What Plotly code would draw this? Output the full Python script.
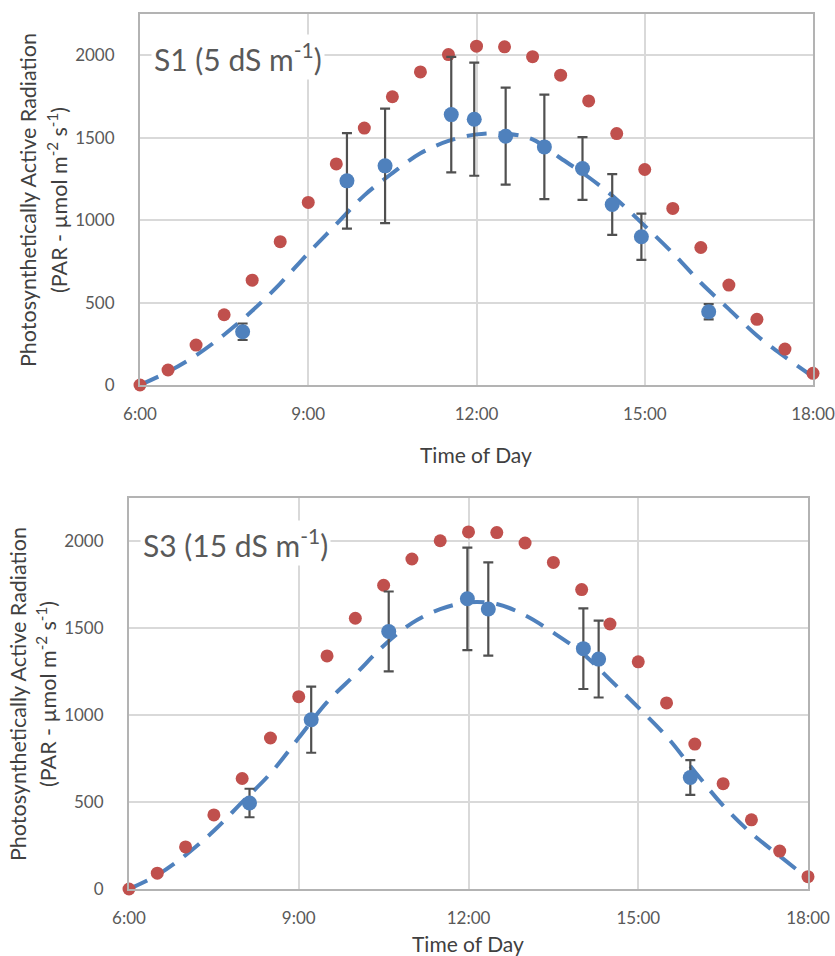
import plotly.graph_objects as go

W, H = 835, 956

# ---- data ----
clear_sky_time = [6.0, 6.5, 7.0, 7.5, 8.0, 8.5, 9.0, 9.5, 10.0, 10.5, 11.0, 11.5, 12.0,
                  12.5, 13.0, 13.5, 14.0, 14.5, 15.0, 15.5, 16.0, 16.5, 17.0, 17.5, 18.0]
clear_sky_par = [0, 91, 242, 426, 636, 869, 1107, 1341, 1558, 1748, 1899, 2004, 2055,
                 2051, 1991, 1879, 1723, 1525, 1307, 1071, 834, 606, 398, 218, 71]

s1_time = [7.83, 9.69, 10.37, 11.55, 11.96, 12.52, 13.21, 13.89, 14.42, 14.94, 16.14]
s1_par = [323, 1238, 1329, 1640, 1612, 1509, 1444, 1313, 1095, 899, 444]
s1_err = [50, 290, 347, 350, 343, 294, 317, 190, 184, 140, 46]

s3_time = [8.13, 9.22, 10.59, 11.98, 12.35, 14.03, 14.30, 15.92]
s3_par = [495, 974, 1482, 1670, 1611, 1383, 1323, 642]
s3_err = [82, 190, 230, 295, 268, 232, 221, 100]

fit_time = clear_sky_time
s1_fit = [0, 80, 180, 305, 450, 615, 800, 975, 1150, 1285, 1405, 1480, 1520,
          1525, 1490, 1375, 1260, 1125, 965, 800, 620, 460, 300, 170, 50]
s3_fit = [0, 80, 195, 335, 500, 665, 870, 1075, 1235, 1400, 1530, 1610, 1650,
          1640, 1575, 1475, 1360, 1205, 1045, 878, 675, 480, 320, 190, 60]

x_tickvals = [6, 9, 12, 15, 18]
x_ticktext = ["6:00", "9:00", "12:00", "15:00", "18:00"]
y_tickvals = [0, 500, 1000, 1500, 2000]

panel_labels = ["S1 (5 dS m<sup>-1</sup>)", "S3 (15 dS m<sup>-1</sup>)"]
x_title = "Time of Day"
y_title_1 = "Photosynthetically Active Radiation"
y_title_2 = "(PAR - µmol m<sup>-2</sup> s<sup>-1</sup>)"

RED = "#c0504d"
BLUE = "#4f81bd"
ERR = "#505050"
TXT = "#595959"
TITLE = "#404040"
FONT = "Lato"

# panel pixel boxes in screenshot coords: (left, right, top, bottom)
boxes = [(140, 813, 14, 385), (129, 808, 498, 889)]

fig = go.Figure()
panels = [(s1_time, s1_par, s1_err, s1_fit), (s3_time, s3_par, s3_err, s3_fit)]
for i, (t, v, e, fit) in enumerate(panels):
    xa = "x" if i == 0 else "x2"
    ya = "y" if i == 0 else "y2"
    fig.add_trace(go.Scatter(x=fit_time, y=fit, mode="lines", xaxis=xa, yaxis=ya,
                             line=dict(color=BLUE, width=4, dash="20px,12px", shape="spline"),
                             showlegend=False, hoverinfo="skip", cliponaxis=False))
    fig.add_trace(go.Scatter(x=clear_sky_time, y=clear_sky_par, mode="markers", xaxis=xa, yaxis=ya,
                             marker=dict(color=RED, size=13), showlegend=False, cliponaxis=False))
    fig.add_trace(go.Scatter(x=t, y=v, mode="markers", xaxis=xa, yaxis=ya,
                             marker=dict(color=BLUE, size=15),
                             error_y=dict(type="data", array=e, visible=True,
                                          color=ERR, thickness=2.2, width=5),
                             showlegend=False, cliponaxis=False))

def px2x(p):
    return p / W

def px2y(p):
    return 1 - p / H

axis_common = dict(showline=True, linecolor="#b3b3b3", linewidth=2, mirror=True,
                   showgrid=True, gridcolor="#d9d9d9", gridwidth=2, zeroline=False,
                   automargin=False, ticklabeloverflow="allow",
                   tickfont=dict(family=FONT, size=17, color=TXT),
                   ticks="outside", tickcolor="rgba(0,0,0,0)")

for i, (l, r, t, b) in enumerate(boxes):
    sfx = "" if i == 0 else "2"
    fig.update_layout(**{
        "xaxis" + sfx: dict(axis_common, domain=[px2x(l), px2x(r)], range=[6, 18],
                            tickvals=x_tickvals, ticktext=x_ticktext, ticklen=13,
                            anchor="y" + sfx),
        "yaxis" + sfx: dict(axis_common, domain=[px2y(b), px2y(t)], range=[0, 2250],
                            tickvals=y_tickvals, ticklen=20, anchor="x" + sfx),
    })

annotations = []
# panel labels
label_pos = [(151, 57), (140, 543)]
for i, (lx, ly) in enumerate(label_pos):
    annotations.append(dict(text=panel_labels[i], xref="paper", yref="paper",
                            x=px2x(lx), y=px2y(ly), xanchor="left", yanchor="middle",
                            showarrow=False, bgcolor="white", borderpad=2,
                            font=dict(family=FONT, size=30, color=TXT)))
# x titles
for (xc, yc) in [(476, 454), (468, 943)]:
    annotations.append(dict(text=x_title, xref="paper", yref="paper",
                            x=px2x(xc), y=px2y(yc), xanchor="center", yanchor="middle",
                            showarrow=False, font=dict(family=FONT, size=21, color=TITLE)))
# y titles
for (x1, x2, yc) in [(28, 57, 200), (18, 46, 694)]:
    annotations.append(dict(text=y_title_1, xref="paper", yref="paper", textangle=-90,
                            x=px2x(x1), y=px2y(yc), xanchor="center", yanchor="middle",
                            showarrow=False, font=dict(family=FONT, size=21.5, color=TITLE)))
    annotations.append(dict(text=y_title_2, xref="paper", yref="paper", textangle=-90,
                            x=px2x(x2), y=px2y(yc), xanchor="center", yanchor="middle",
                            showarrow=False, font=dict(family=FONT, size=21.5, color=TITLE)))

fig.update_layout(width=W, height=H, margin=dict(l=0, r=0, t=0, b=0),
                  paper_bgcolor="white", plot_bgcolor="white",
                  annotations=annotations, font=dict(family=FONT))

fig.write_html("out.html", config={"displayModeBar": False},
               post_script="document.body.style.margin='0';document.body.style.overflow='hidden';")
